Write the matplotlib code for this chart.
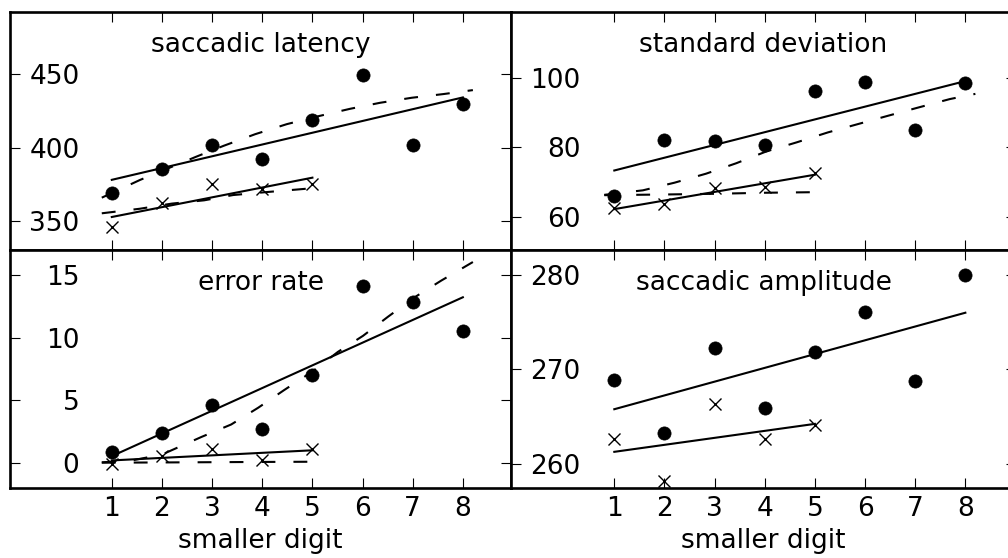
import numpy as np
import matplotlib
matplotlib.use("Agg")
import matplotlib.pyplot as plt

plt.rcParams['font.family'] = ['DejaVu Sans']
plt.rcParams['font.size'] = 19
plt.rcParams['lines.scale_dashes'] = False

# smaller digit on the x axis; crosses only go up to 5
digits = np.arange(1, 9)
digits_small = np.arange(1, 6)

# saccadic latency
lat_dots = [369.4, 385.7, 401.8, 392.1, 418.8, 449.5, 401.8, 429.5]
lat_crosses = [346.3, 362.6, 375.5, 371.7, 375.1]
lat_model_dots_at = [0.8, 1.56, 2.69, 3.23, 3.86, 4.49, 5.12, 5.75, 6.35, 6.98, 7.61, 8.2]
lat_model_dots = [366.0, 378.0, 393.9, 401.2, 409.1, 415.9, 421.3, 426.3, 430.4, 433.8, 436.3, 439.0]
lat_model_crosses_at = [0.8, 1.56, 2.2, 2.84, 3.42, 4.12, 4.75, 5.2]
lat_model_crosses = [355.4, 358.5, 362.0, 364.2, 367.8, 369.9, 371.7, 373.0]

# standard deviation
sd_dots = [66.0, 82.1, 81.9, 80.8, 96.3, 98.9, 85.0, 98.6]
sd_crosses = [62.6, 63.6, 68.4, 68.6, 72.5]
sd_model_dots_at = [0.8, 1.57, 2.2, 2.83, 3.43, 4.03, 4.63, 5.26, 5.86, 6.46, 7.07, 7.69, 8.2]
sd_model_dots = [66.3, 67.6, 69.8, 72.4, 75.4, 78.8, 81.4, 84.3, 86.7, 89.1, 91.5, 93.9, 95.4]
sd_model_crosses_at = [0.8, 2.0, 3.0, 4.0, 5.2]
sd_model_crosses = [66.2, 66.4, 66.6, 66.9, 67.1]

# error rate
err_dots = [0.88, 2.41, 4.62, 2.73, 7.0, 14.11, 12.83, 10.5]
err_crosses = [-0.05, 0.58, 1.12, 0.26, 1.12]
err_model_dots_at = [0.8, 1.4, 2.0, 2.79, 3.38, 3.92, 4.43, 5.0, 5.51, 6.01, 6.51, 7.04, 7.57, 8.2]
err_model_dots = [0.05, 0.2, 0.67, 2.08, 3.07, 4.41, 5.8, 7.3, 8.87, 10.15, 11.68, 13.23, 14.56, 16.04]
err_model_crosses_at = [0.8, 2.0, 3.0, 4.0, 5.2]
err_model_crosses = [0.02, 0.04, 0.06, 0.08, 0.1]

# saccadic amplitude (no model curves)
amp_dots = [268.9, 263.3, 272.3, 265.9, 271.9, 276.1, 268.8, 280.0]
amp_crosses = [262.6, 258.2, 266.3, 262.6, 264.1]


def draw_panel(ax, title, dots, crosses, xlim, ylim, yticks,
               model_dots=None, model_crosses=None):
    # linear fits through both point sets
    for xs, ys in ((digits, dots), (digits_small, crosses)):
        k, b = np.polyfit(xs, ys, 1)
        ends = np.array([xs[0], xs[-1]])
        ax.plot(ends, k * ends + b, color='k', lw=1.5)
    for model in (model_dots, model_crosses):
        if model is not None:
            ax.plot(model[0], model[1], color='k', lw=1.5, dashes=(10, 13))
    ax.plot(digits, dots, 'o', color='k', ms=9.5, mew=0.5)
    ax.plot(digits_small, crosses, 'x', color='k', ms=8.5, mew=1.0)
    ax.text(0.5, 0.915, title, transform=ax.transAxes, ha='center', va='top')
    ax.set_xlim(*xlim)
    ax.set_ylim(*ylim)
    ax.set_xticks(digits)
    ax.set_yticks(yticks)
    ax.tick_params(direction='in', top=True, right=True, length=7.5, width=0.8)
    ax.tick_params(axis='y', pad=-50)
    ax.tick_params(axis='x', pad=6)
    for sp in ax.spines.values():
        sp.set_linewidth(1.9)


fig = plt.figure(figsize=(10.08, 5.58), dpi=100)
W, H = 1008.0, 558.0
left_box = (10 / W, 501 / W)
right_box = (511 / W, 505 / W)
ax_lat = fig.add_axes([left_box[0], 308 / H, left_box[1], 238 / H])
ax_sd = fig.add_axes([right_box[0], 308 / H, right_box[1], 238 / H])
ax_err = fig.add_axes([left_box[0], 70 / H, left_box[1], 238 / H])
ax_amp = fig.add_axes([right_box[0], 70 / H, right_box[1], 238 / H])

left_xlim = (-1.03, 8.96)
right_xlim = (-1.06, 9.01)

draw_panel(ax_lat, 'saccadic latency', lat_dots, lat_crosses, left_xlim, (330.5, 492),
           [350, 400, 450],
           (lat_model_dots_at, lat_model_dots), (lat_model_crosses_at, lat_model_crosses))
draw_panel(ax_sd, 'standard deviation', sd_dots, sd_crosses, right_xlim, (50.4, 119),
           [60, 80, 100],
           (sd_model_dots_at, sd_model_dots), (sd_model_crosses_at, sd_model_crosses))
draw_panel(ax_err, 'error rate', err_dots, err_crosses, left_xlim, (-2, 17),
           [0, 5, 10, 15],
           (err_model_dots_at, err_model_dots), (err_model_crosses_at, err_model_crosses))
draw_panel(ax_amp, 'saccadic amplitude', amp_dots, amp_crosses, right_xlim, (257.45, 282.65),
           [260, 270, 280])

for ax in (ax_lat, ax_sd):
    ax.tick_params(axis='x', labelbottom=False)
for ax in (ax_err, ax_amp):
    ax.set_xlabel('smaller digit', labelpad=4)

fig.savefig('out.png', dpi=100)
